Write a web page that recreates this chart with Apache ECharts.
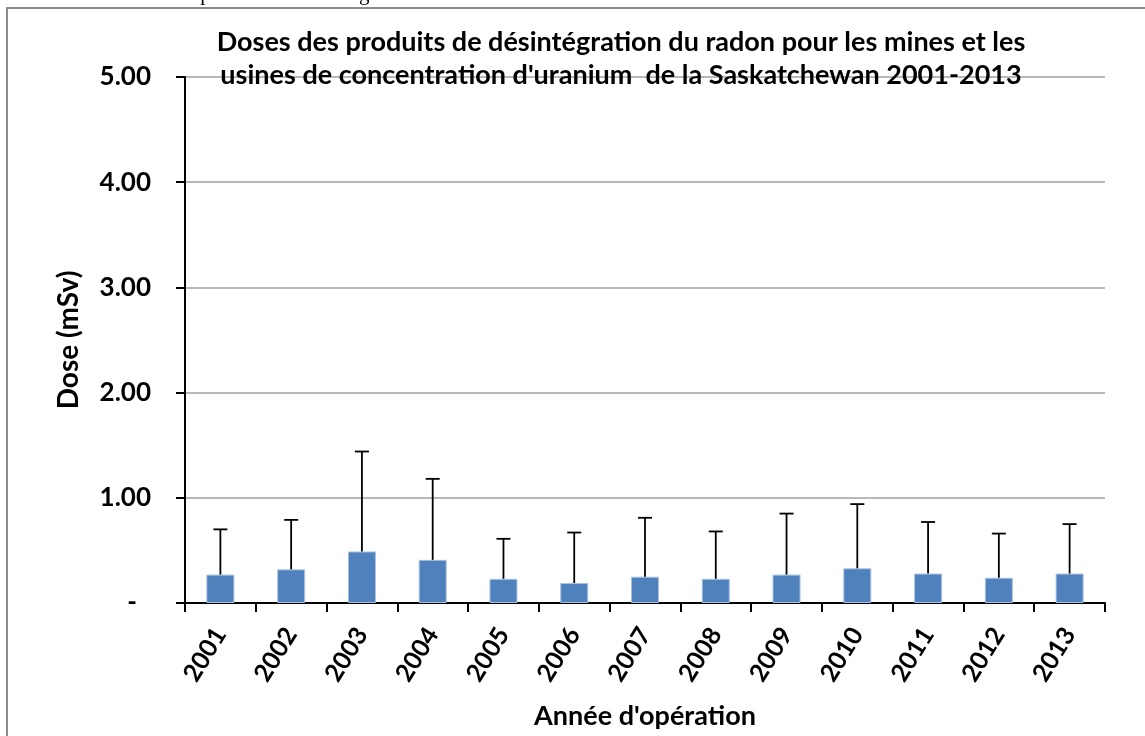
<!DOCTYPE html>
<html>
<head>
<meta charset="utf-8">
<script src="https://cdn.jsdelivr.net/npm/echarts@6/dist/echarts.min.js"></script>
<style>
html,body{margin:0;padding:0;background:#fff;}
#chart{width:1145px;height:736px;}
</style>
</head>
<body>
<div id="chart"></div>
<script>
// ---- data ----
var categories = ['2001','2002','2003','2004','2005','2006','2007','2008','2009','2010','2011','2012','2013'];
var doseValues = [0.27, 0.32, 0.49, 0.41, 0.23, 0.19, 0.25, 0.23, 0.27, 0.33, 0.28, 0.24, 0.28];
var errorUpper = [0.70, 0.79, 1.44, 1.18, 0.61, 0.67, 0.81, 0.68, 0.85, 0.94, 0.77, 0.66, 0.75];
var yTicks = [0, 1, 2, 3, 4, 5];
var titleLines = ['Doses des produits de désintégration du radon pour les mines et les',
                  "usines de concentration d'uranium  de la Saskatchewan 2001-2013"];
var xAxisName = "Année d'opération";
var yAxisName = 'Dose (mSv)';
var topCutText = "d'uranium    dues aux    produits de désintégration du radon";

var FONT = 'Lato';
var chart = echarts.init(document.getElementById('chart'));

var errData = categories.map(function (c, i) { return [i, doseValues[i], errorUpper[i]]; });

chart.setOption({
  animation: false,
  backgroundColor: '#fff',
  title: {
    text: titleLines.join('\n'),
    left: 616, top: 21, textAlign: 'center',
    textStyle: { fontFamily: FONT, fontWeight: 'bold', fontSize: 27, lineHeight: 33, color: '#000' }
  },
  graphic: [
    { type: 'rect', shape: { x: 7, y: 8, width: 1200, height: 800 }, style: { fill: 'none', stroke: '#8a8a8a', lineWidth: 2 }, silent: true, z: 100 },
    { type: 'text', x: 0, y: 5, style: { text: topCutText, fontSize: 21, fontFamily: 'Liberation Serif', fill: '#000', verticalAlign: 'bottom', align: 'left' }, silent: true, z: 100 }
  ],
  grid: { left: 185, right: 40, top: 77, bottom: 133, containLabel: false, outerBoundsMode: 'none' },
  xAxis: {
    type: 'category',
    data: categories,
    boundaryGap: true,
    name: xAxisName,
    nameLocation: 'middle',
    nameGap: 100,
    nameTextStyle: { fontFamily: FONT, fontWeight: 'bold', fontSize: 27, color: '#000' },
    axisLine: { lineStyle: { color: '#000', width: 2 } },
    axisTick: { show: true, inside: false, length: 9, alignWithLabel: false, lineStyle: { color: '#000', width: 2 } },
    axisLabel: { rotate: 58, margin: 27, fontFamily: FONT, fontWeight: 'bold', fontSize: 25, color: '#000' },
    splitLine: { show: false }
  },
  yAxis: {
    type: 'value',
    min: 0, max: 5, interval: 1,
    name: yAxisName,
    nameLocation: 'middle',
    nameGap: 102,
    nameTextStyle: { fontFamily: FONT, fontWeight: 'bold', fontSize: 28, color: '#000' },
    axisLine: { show: true, lineStyle: { color: '#000', width: 2 } },
    axisTick: { show: true, inside: false, length: 9, lineStyle: { color: '#000', width: 2 } },
    axisLabel: {
      margin: 34, fontFamily: FONT, fontWeight: 'bold', fontSize: 26, color: '#000',
      formatter: function (v) { return v === 0 ? '{d|-}' : v.toFixed(2); },
      rich: { d: { fontFamily: FONT, fontWeight: 'bold', fontSize: 26, color: '#000', padding: [0, 14, 0, 0] } }
    },
    splitLine: { show: true, lineStyle: { color: '#b8b8b8', width: 2 } }
  },
  series: [
    {
      type: 'bar',
      data: doseValues,
      barWidth: 28,
      itemStyle: { color: '#4F81BD', borderColor: '#a9c1e0', borderWidth: 1 },
      z: 2
    },
    {
      type: 'custom',
      data: errData,
      z: 3,
      renderItem: function (params, api) {
        var x = api.value(0);
        var lo = api.coord([x, api.value(1)]);
        var hi = api.coord([x, api.value(2)]);
        var cap = 7;
        var st = { stroke: '#000', lineWidth: 1.8 };
        return {
          type: 'group',
          children: [
            { type: 'line', shape: { x1: lo[0], y1: lo[1], x2: hi[0], y2: hi[1] }, style: st },
            { type: 'line', shape: { x1: hi[0] - cap, y1: hi[1], x2: hi[0] + cap, y2: hi[1] }, style: st }
          ]
        };
      }
    }
  ]
});
</script>
</body>
</html>
